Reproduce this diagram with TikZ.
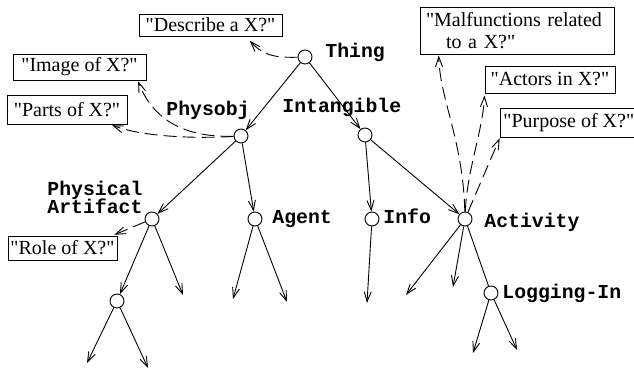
\documentclass[tikz,border=0pt]{standalone}
\usepackage{fontspec}
\setmainfont{Liberation Serif}[Ligatures=TeXOff]
\setmonofont{Liberation Mono}
\usetikzlibrary{arrows.meta}
\newcommand{\questfont}{\fontsize{20}{22}\selectfont}
\newcommand{\conceptfont}{\ttfamily\bfseries\fontsize{19.8}{20}\selectfont}
\tikzset{
  concept/.style={circle, draw, minimum size=14pt, inner sep=0pt},
  conceptlab/.style={font=\conceptfont, inner sep=0pt, anchor=base west},
  question/.style={draw, font=\questfont, inner sep=0pt},
  isa/.style={-{Straight Barb[length=10pt,width=7pt]}},
  qlink/.style={isa, dash pattern=on 13pt off 6pt},
}

\begin{document}
\begin{tikzpicture}[x=1pt, y=-1pt, line width=0.9pt]
		%%%%% START %%%%%
		\useasboundingbox (0,0) rectangle (634,370);

		\node[concept] (thing) at (305,57) {};
		\node[concept] (physobj) at (241,136) {};
		\node[concept] (intangible) at (365,135) {};
		\node[concept] (physart) at (152,219) {};
		\node[concept] (agent) at (255,219) {};
		\node[concept] (info) at (372,219) {};
		\node[concept] (activity) at (465,219) {};
		\node[concept] (artsub) at (117,301) {};
		\node[concept] (logging) at (491,293) {};

		\node[conceptlab] (thing-lab) at (325,57) {Thing};
		\node[conceptlab] (physobj-lab) at (166,115) {Physobj};
		\node[conceptlab] (intangible-lab) at (282,112) {Intangible};
		\node[conceptlab] (physart-lab1) at (47,195) {Physical};
		\node[conceptlab] (physart-lab2) at (47,213) {Artifact};
		\node[conceptlab] (agent-lab) at (272,223) {Agent};
		\node[conceptlab] (info-lab) at (383,223) {Info};
		\node[conceptlab] (activity-lab) at (484,227) {Activity};
		\node[conceptlab] (logging-lab) at (502,298) {Logging-In};

		\draw[isa] (thing) -- (physobj);
		\draw[isa] (thing) -- (intangible);
		\draw[isa] (physobj) -- (physart);
		\draw[isa] (physobj) -- (agent);
		\draw[isa] (intangible) -- (info);
		\draw[isa] (intangible) -- (activity);
		\draw[isa] (physart) -- (artsub);
		\draw (activity) -- (logging);

		\coordinate (physart-leaf) at (183,295);
		\coordinate (artsub-leaf1) at (87,363);
		\coordinate (artsub-leaf2) at (148,368);
		\coordinate (agent-leaf1) at (233,299);
		\coordinate (agent-leaf2) at (287,302);
		\coordinate (info-leaf) at (367,303);
		\coordinate (activity-leaf1) at (406,295);
		\coordinate (activity-leaf2) at (453,287);
		\coordinate (logging-leaf1) at (473,353);
		\coordinate (logging-leaf2) at (517,350);

		\draw[isa] (physart) -- (physart-leaf);
		\draw[isa] (artsub) -- (artsub-leaf1);
		\draw[isa] (artsub) -- (artsub-leaf2);
		\draw[isa] (agent) -- (agent-leaf1);
		\draw[isa] (agent) -- (agent-leaf2);
		\draw[isa] (info) -- (info-leaf);
		\draw[isa] (activity) -- (activity-leaf1);
		\draw[isa] (activity) -- (activity-leaf2);
		\draw[isa] (logging) -- (logging-leaf1);
		\draw[isa] (logging) -- (logging-leaf2);

		\node[question, minimum width=143pt, minimum height=22pt] (qdescribe) at (210.5,25) {"Describe a X?"};
		\node[question, minimum width=133pt, minimum height=26pt] (qimage) at (79.5,67) {"Image of X?"};
		\node[question, minimum width=120pt, minimum height=29pt] (qparts) at (67,109.5) {"Parts of X?"};
		\node[question, minimum width=109pt, minimum height=24pt] (qrole) at (62.5,248) {"Role of X?"};
		\node[question, align=left, inner xsep=6pt, text width=182pt, minimum height=47pt] (qmalf) at (517,30.5) {"Malfunctions related\\\hspace*{1em}to a X?"};
		\node[question, minimum width=130pt, minimum height=27pt] (qactors) at (550,79.5) {"Actors in X?"};
		\node[question, inner xsep=3pt, minimum height=29pt, anchor=west] (qpurpose) at (500,122.5) {"Purpose of X?"};

		\draw[qlink, shorten >=6pt] (thing) .. controls (272,58) and (262,54) .. (qdescribe.-18);
		\draw[qlink, shorten >=1pt] (physobj) .. controls (175,138) and (150,112) .. (qimage.-13);
		\draw[qlink, shorten >=2pt] (physobj) .. controls (190,139) and (140,136) .. (qparts.-19);
		\draw[qlink, shorten >=2pt] (physart) -- (qrole.14);
		\draw[qlink, shorten >=1pt] (activity) .. controls (463,140) and (440,100) .. (qmalf.-163);
		\draw[qlink, shorten >=2pt] (activity) .. controls (467,170) and (483,130) .. (qactors.south west);
		\draw[qlink, shorten >=1pt] (activity) -- (qpurpose.south west);
		%%%%% END %%%%%
\end{tikzpicture}
\end{document}
